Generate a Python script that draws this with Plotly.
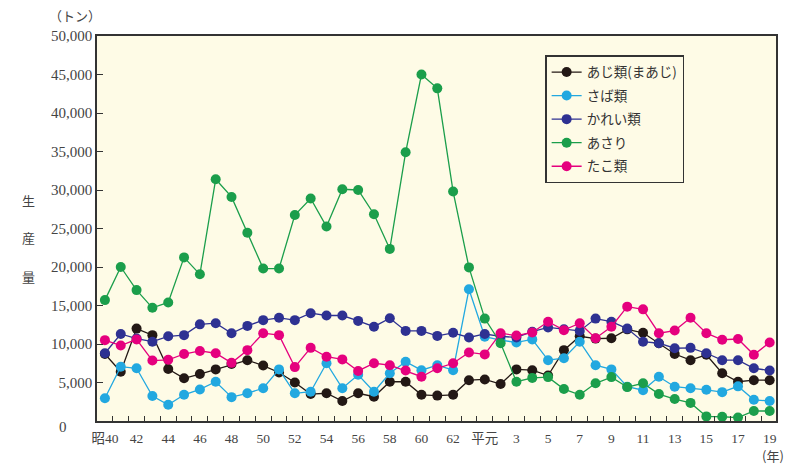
import plotly.graph_objects as go

years_idx = list(range(43))  # 昭和40年(1965) .. 平成19年(2007)

x_tick_pos = [0, 2, 4, 6, 8, 10, 12, 14, 16, 18, 20, 22, 24, 26, 28, 30, 32, 34, 36, 38, 40, 42]
x_tick_text = ["昭40", "42", "44", "46", "48", "50", "52", "54", "56", "58", "60", "62",
               "平元", "3", "5", "7", "9", "11", "13", "15", "17", "19"]

y_tick_vals = [5000, 10000, 15000, 20000, 25000, 30000, 35000, 40000, 45000, 50000]
y_tick_text = ["5,000", "10,000", "15,000", "20,000", "25,000", "30,000", "35,000", "40,000", "45,000", "50,000"]

aji = [8700, 6400, 12000, 11150, 6750, 5550, 6100, 6700, 7400, 7900,
       7200, 6300, 5000, 3500, 3600, 2600, 3600, 3150, 5100, 5100,
       3400, 3300, 3400, 5300, 5400, 4800, 6700, 6600, 5900, 9200,
       11000, 10700, 10750, 11900, 11450, 10100, 8700, 7900, 8600, 6200,
       5100, 5300, 5300]

saba = [2950, 7050, 6850, 3250, 2100, 3400, 4100, 5100, 3100, 3600,
        4250, 6700, 3600, 3800, 7500, 4250, 6000, 3800, 6200, 7700,
        6600, 7250, 6600, 17100, 10950, 10500, 10200, 10600, 7900, 8150,
        10300, 7250, 6700, 4450, 4000, 5750, 4450, 4250, 4050, 3750,
        4500, 2750, 2600]

karei = [8800, 11300, 10700, 10300, 11000, 11150, 12550, 12700, 11400, 12350,
         13100, 13400, 13100, 14000, 13700, 13700, 13000, 12250, 13350, 11700,
         11700, 11050, 11450, 10850, 11300, 11000, 10850, 11600, 12150, 11900,
         11700, 13300, 12900, 12000, 10300, 10100, 9450, 9500, 8800, 7900,
         7900, 6850, 6550]

asari = [15700, 20000, 17000, 14700, 15400, 21250, 19050, 31400, 29100, 24450,
         19800, 19800, 26750, 28900, 25250, 30100, 30000, 26850, 22350, 34900,
         45000, 43200, 29800, 19950, 13300, 10100, 5100, 5600, 5700, 4150,
         3400, 4900, 5700, 4400, 4900, 3500, 2850, 2350, 600, 550,
         450, 1300, 1300]

tako = [10500, 9800, 10600, 7850, 7950, 8700, 9100, 8800, 7550, 9200,
        11400, 11150, 7000, 9500, 8350, 8000, 6500, 7500, 7250, 6550,
        5750, 6850, 7500, 8900, 8650, 11400, 11100, 11500, 12900, 11800,
        12700, 10750, 12250, 14850, 14500, 11400, 11750, 13400, 11400, 10550,
        10650, 8600, 10200]

series = [
    ("あじ類(まあじ)", aji, "#231815"),
    ("さば類", saba, "#22a8e0"),
    ("かれい類", karei, "#2e3192"),
    ("あさり", asari, "#1b9e4b"),
    ("たこ類", tako, "#e5007e"),
]

fig = go.Figure()
for i, (name, vals, col) in enumerate(series):
    fig.add_trace(go.Scatter(
        x=years_idx, y=vals, name=name, mode="lines+markers",
        line=dict(color=col, width=1.3),
        marker=dict(color=col, size=10, line=dict(width=0)),
        legendgroup="g%d" % i,
    ))

# invisible trace on overlay axis for x labels
fig.add_trace(go.Scatter(x=[0, 42], y=[0, 0], xaxis="x2", mode="markers",
                         marker=dict(opacity=0), showlegend=False, hoverinfo="skip"))

serif = "Liberation Serif, Noto Sans CJK JP, serif"
sans = "Noto Sans CJK JP, sans-serif"

fig.update_layout(
    width=790, height=468,
    margin=dict(l=97, r=14, t=36, b=47),
    paper_bgcolor="white",
    plot_bgcolor="#fefbe6",
    showlegend=True,
    legend=dict(
        x=0.66, y=0.95, xanchor="left", yanchor="top",
        bgcolor="#fefbe6", bordercolor="#333333", borderwidth=1.5,
        font=dict(family=sans, size=13.5, color="#333333"),
        tracegroupgap=3,
    ),
    xaxis=dict(
        range=[-0.5, 42.4],
        tickmode="array",
        tickvals=[i + 0.5 for i in range(42)],
        ticktext=["" for _ in range(42)],
        ticks="inside", ticklen=5, tickcolor="#333333", tickwidth=1,
        showgrid=False, zeroline=False,
        showline=True, linecolor="#333333", linewidth=1.5, mirror=True,
    ),
    xaxis2=dict(
        overlaying="x", side="bottom", range=[-0.5, 42.4],
        tickmode="array", tickvals=x_tick_pos, ticktext=x_tick_text,
        ticks="outside", ticklen=5, tickcolor="rgba(0,0,0,0)",
        showline=False, showgrid=False, zeroline=False,
        tickfont=dict(family=serif, size=13.5, color="#444444"),
    ),
    yaxis=dict(
        range=[0, 50000],
        tickmode="array", tickvals=y_tick_vals, ticktext=y_tick_text,
        ticks="inside", ticklen=6, tickcolor="#333333", tickwidth=1,
        tickfont=dict(family=serif, size=15, color="#444444"),
        showgrid=False, zeroline=False,
        showline=True, linecolor="#333333", linewidth=1.5, mirror=True,
    ),
)

def px_x(px):
    return (px - 97) / 679.0

def px_y(py):
    return (421 - py) / 385.0

ann = [
    dict(text="（トン）", x=px_x(75), y=px_y(16), font=dict(family=sans, size=13, color="#444444")),
    dict(text="0", x=px_x(63), y=px_y(427), font=dict(family=serif, size=15, color="#444444")),
    dict(text="生", x=px_x(28), y=px_y(200), font=dict(family=sans, size=13, color="#444444")),
    dict(text="産", x=px_x(28), y=px_y(238), font=dict(family=sans, size=13, color="#444444")),
    dict(text="量", x=px_x(28), y=px_y(276), font=dict(family=sans, size=13, color="#444444")),
    dict(text="(年)", x=px_x(773), y=px_y(455), font=dict(family=sans, size=13, color="#444444")),
]
for a in ann:
    fig.add_annotation(xref="paper", yref="paper", showarrow=False,
                       xanchor="center", yanchor="middle", **a)

fig.write_html("out.html", config={"displayModeBar": False},
               post_script="document.body.style.margin='0';document.body.style.padding='0';")
